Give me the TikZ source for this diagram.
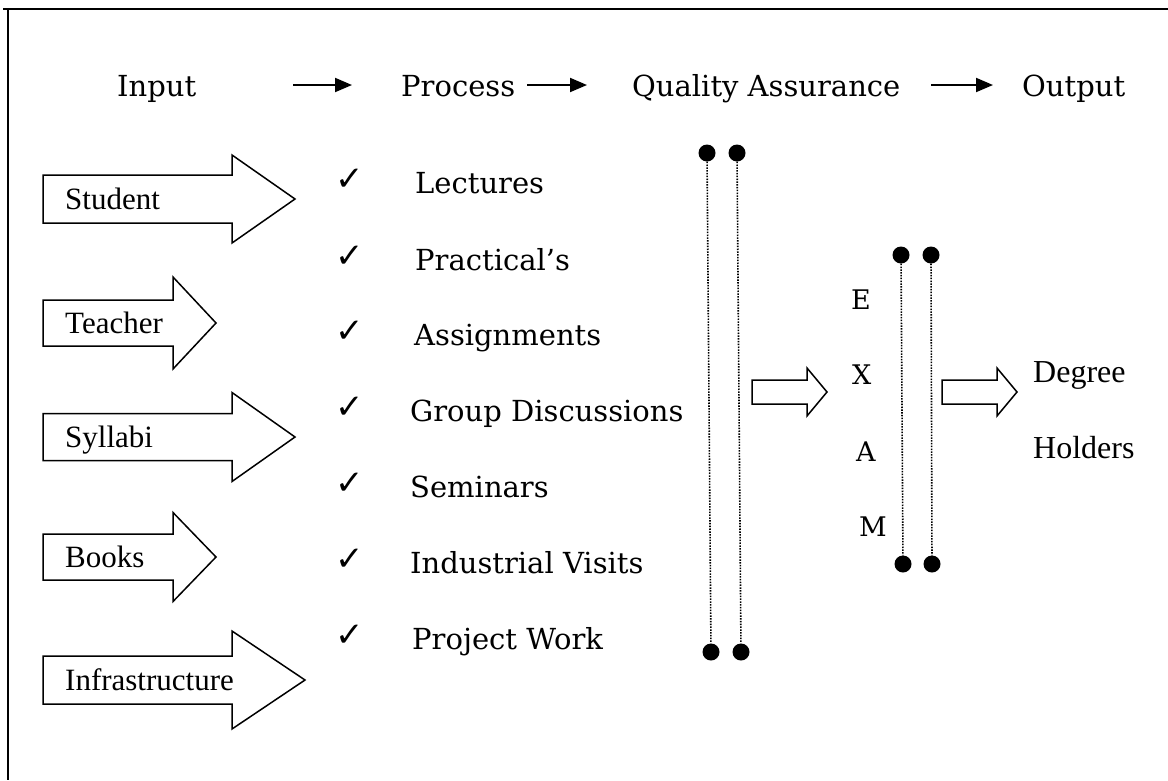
\documentclass[tikz,border=0pt]{standalone}
\usepackage{fontspec}
\setmainfont{DejaVu Serif}
\newfontfamily\tms{Liberation Serif}
\newfontfamily\symf{DejaVu Sans}
\usetikzlibrary{arrows.meta}
\newcommand\blockarr[6]{%
  \draw[blk] (#1,#2-#3) -- (#4,#2-#3) -- (#4,#2-#5) -- (#6,#2) -- (#4,#2+#5) -- (#4,#2+#3) -- (#1,#2+#3) -- cycle;}
\begin{document}
\begin{tikzpicture}[x=1pt,y=-1pt,
  blk/.style={line width=1.5pt,line join=miter},
  hdr/.style={anchor=base west,inner sep=0pt,font=\fontsize{29}{34}\selectfont},
  item/.style={anchor=base west,inner sep=0pt,font=\fontsize{29}{34}\selectfont},
  chk/.style={anchor=base west,inner sep=0pt,font=\symf\fontsize{34}{40}\selectfont},
  inlab/.style={anchor=base west,inner sep=0pt,font=\tms\fontsize{31}{36}\selectfont},
  outlab/.style={anchor=base west,inner sep=0pt,font=\tms\fontsize{32}{38}\selectfont},
  exam/.style={anchor=base west,inner sep=0pt,font=\fontsize{27}{32}\selectfont},
  flow/.style={line width=2pt,-{Triangle[length=17pt,width=14pt]}},
  dotline/.style={line width=1.6pt,dash pattern=on 1.5pt off 1.3pt},
  dot/.style={circle,fill=black,inner sep=0pt,minimum size=17pt}]
\useasboundingbox (0,0) rectangle (1168,780);
% frame
\draw[line width=1.8pt] (3,9) -- (1168,9);
\draw[line width=1.2pt] (8,9) -- (8,780);
% header
\node[hdr] (inp) at (117,96) {Input};
\node[hdr] (proc) at (401,96) {Process};
\node[hdr] (qa) at (632,96) {Quality Assurance};
\node[hdr] (outp) at (1022,96) {Output};
\coordinate (h1s) at (293,85); \coordinate (h1e) at (352,85);
\coordinate (h2s) at (527,85); \coordinate (h2e) at (587,85);
\coordinate (h3s) at (931,85); \coordinate (h3e) at (993,85);
\draw[flow] (h1s) -- (h1e);
\draw[flow] (h2s) -- (h2e);
\draw[flow] (h3s) -- (h3e);
% input block arrows
\blockarr{43}{199}{24}{232}{44}{295}
\blockarr{43}{323}{23}{173}{46}{216}
\blockarr{43}{437}{23.5}{232}{44.5}{295}
\blockarr{43}{557}{23}{173}{44.5}{216}
\blockarr{43}{680}{24}{232}{49}{305}
\node[inlab] (stu) at (65,209) {Student};
\node[inlab] (tea) at (65,333) {Teacher};
\node[inlab] (syl) at (65,447) {Syllabi};
\node[inlab] (boo) at (65,567) {Books};
\node[inlab] (inf) at (65,690) {Infrastructure};
% process items
\foreach \n/\y/\xx/\t in {p1/193/415/Lectures, p2/270/415/Practical’s, p3/345/414/Assignments,
  p4/421/410/Group Discussions, p5/497/410/Seminars, p6/573/410/Industrial Visits, p7/649/412/Project Work}{
  \node[chk] (c\n) at (335,\y-3) {✓};
  \node[item] (\n) at (\xx,\y) {\t};
}
% quality assurance dotted lines
\node[dot] (qa1t) at (707,153) {};
\node[dot] (qa2t) at (737,153) {};
\node[dot] (qa1b) at (711,652) {};
\node[dot] (qa2b) at (741,652) {};
\draw[dotline] (qa1t) -- (qa1b);
\draw[dotline] (qa2t) -- (qa2b);
% middle arrows
\blockarr{752}{392}{12}{807}{24}{827}
\blockarr{942}{392}{12}{997}{24}{1017}
% exam
\node[dot] (ex1t) at (901,255) {};
\node[dot] (ex2t) at (931,255) {};
\node[dot] (ex1b) at (903,564) {};
\node[dot] (ex2b) at (932,564) {};
\draw[dotline] (ex1t) -- (ex1b);
\draw[dotline] (ex2t) -- (ex2b);
\node[exam] (le) at (851,309) {E};
\node[exam] (lx) at (852,384) {X};
\node[exam] (la) at (856,461) {A};
\node[exam] (lm) at (859,536) {M};
% output
\node[outlab] (deg) at (1033,382) {Degree};
\node[outlab] (hol) at (1033,458) {Holders};
\end{tikzpicture}
\end{document}
